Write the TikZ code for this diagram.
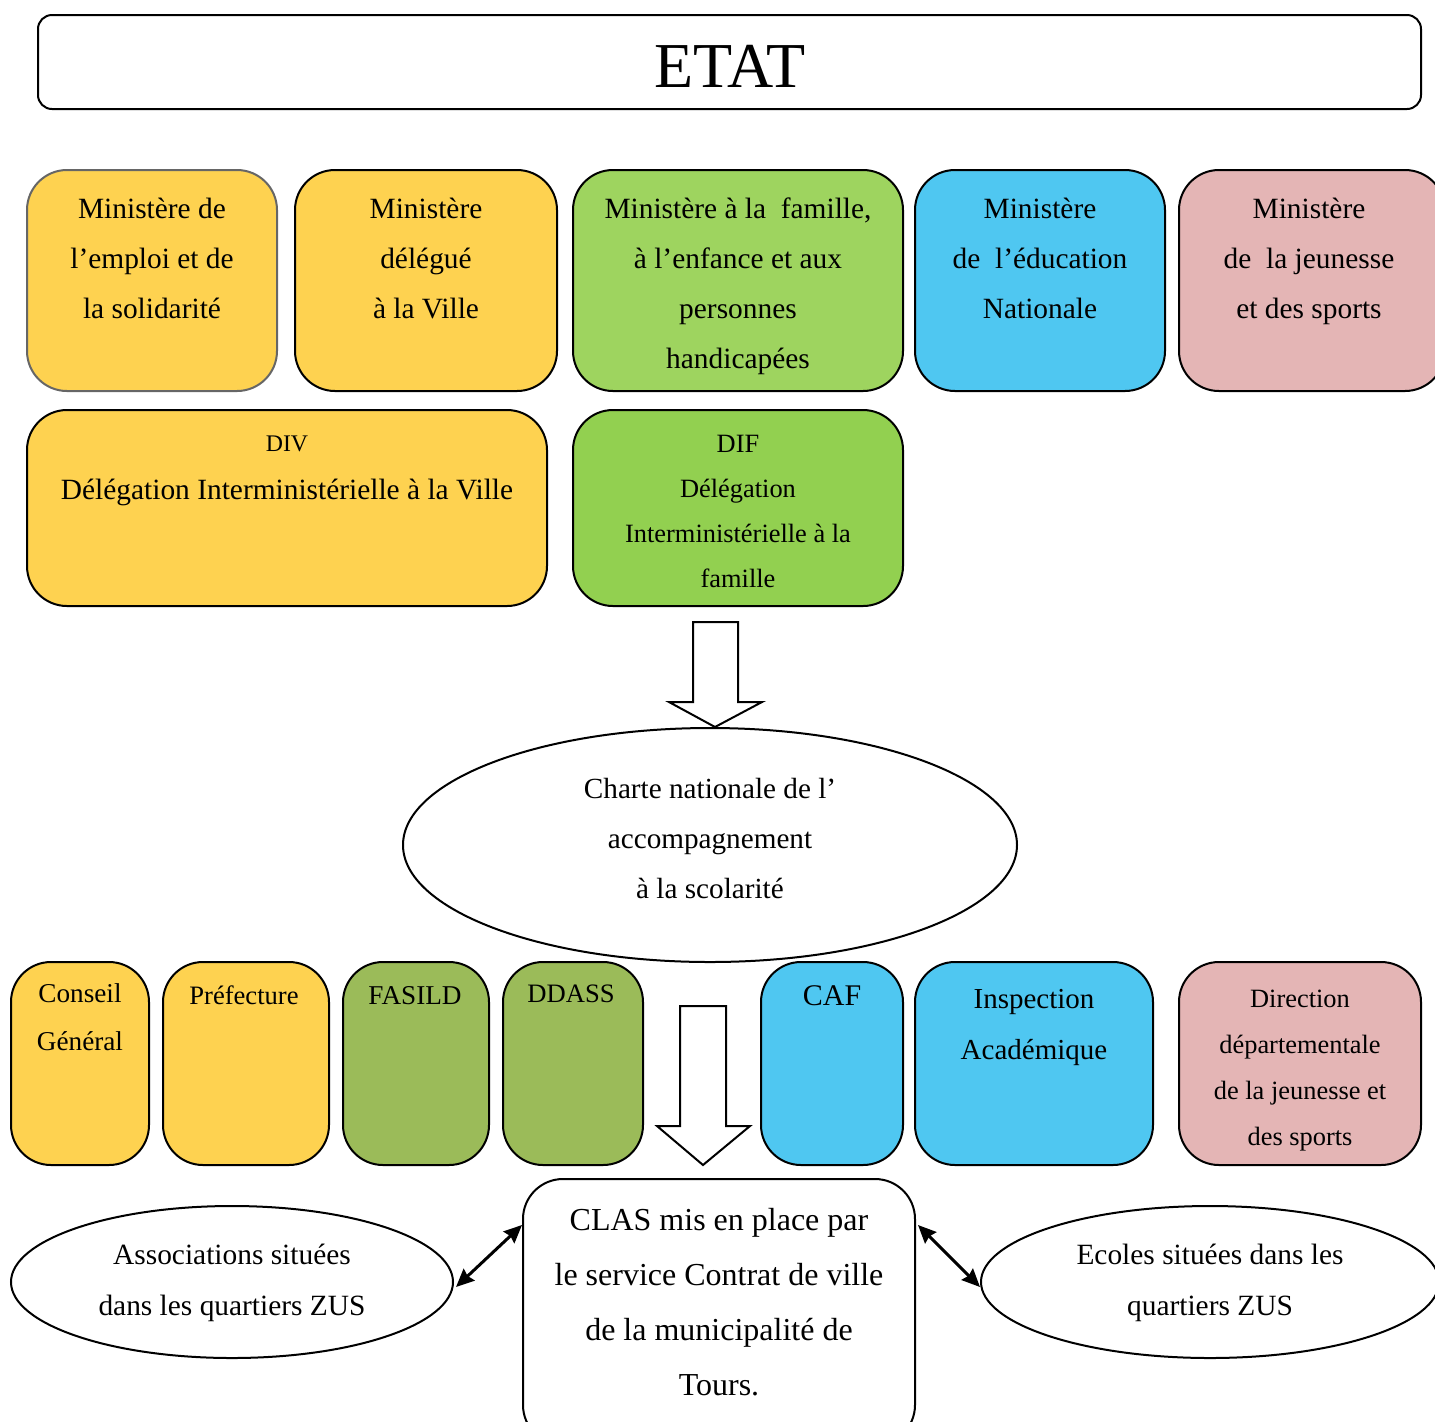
\documentclass[tikz,border=0pt]{standalone}
\usepackage{fontspec}
\setmainfont{Liberation Serif}
\usetikzlibrary{arrows.meta,shapes.geometric,calc}
\definecolor{yel}{HTML}{FED250}
\definecolor{grn}{HTML}{9ED45F}
\definecolor{grn2}{HTML}{92D050}
\definecolor{olv}{HTML}{9BBB59}
\definecolor{blu}{HTML}{4FC7F1}
\definecolor{pnk}{HTML}{E4B5B5}
\newcommand{\mybox}[6]{%
 \pgfmathsetmacro\cx{(#2+#4)/2}\pgfmathsetmacro\cy{(#3+#5)/2}%
 \pgfmathsetmacro\ww{(#4-#2)*0.5}\pgfmathsetmacro\hh{(#5-#3)*0.5}%
 \node[box,#6,minimum width=\ww pt,minimum height=\hh pt] (#1) at (\cx,\cy) {};}
\newcommand{\tx}[6]{%
 \pgfmathsetmacro\ty{#3+0.66*#4-34}%
 \node[txt,font=\fontsize{#4}{#5}\selectfont] (#1) at (#2,\ty) {\rule{0pt}{17pt}#6};}
\begin{document}
\begin{tikzpicture}[x=0.5pt,y=-0.5pt,
 box/.style={draw, line width=1pt, rounded corners=20pt, inner sep=0pt},
 txt/.style={align=center, inner sep=0pt, anchor=north},
 blockarrow/.style={draw, line width=1pt, fill=white, line join=miter},
 link/.style={{Stealth[length=9pt,width=8pt,inset=1pt]}-{Stealth[length=9pt,width=8pt,inset=1pt]}, line width=1.5pt},
 oval/.style={draw, line width=1pt, ellipse, inner sep=0pt}]
\useasboundingbox (0,0) rectangle (1435,1421);
% ETAT
\mybox{etat}{38}{15}{1421}{109}{rounded corners=7pt}
\node[font=\fontsize{32}{38}\selectfont, inner sep=0pt] (etatt) at (730,66) {ETAT};
% Row 1
\mybox{m1}{27}{170}{277}{391}{fill=yel,draw=black!60}
\mybox{m2}{295}{170}{557}{391}{fill=yel}
\mybox{m3}{573}{170}{903}{391}{fill=grn}
\mybox{m4}{915}{170}{1165}{391}{fill=blu}
\mybox{m5}{1179}{170}{1445}{391}{fill=pnk}
\tx{t1}{152}{208}{14.7}{25}{Ministère de\\l’emploi et de\\la solidarité}
\tx{t2}{426}{208}{14.7}{25}{Ministère\\délégué\\à la Ville}
\tx{t3}{738}{208}{14.7}{25}{Ministère à la\ \ famille,\\à l’enfance et aux\\personnes\\handicapées}
\tx{t4}{1040}{208}{14.7}{25}{Ministère\\de\ \ l’éducation\\Nationale}
\tx{t5}{1309}{208}{14.7}{25}{Ministère\\de\ \ la jeunesse\\et des sports}
% Row 2
\mybox{div}{27}{410}{547}{606}{fill=yel}
\mybox{dif}{573}{410}{903}{606}{fill=grn2}
\tx{t6}{287}{443}{11.9}{22}{DIV}
\tx{t7}{287}{489}{14.7}{25}{Délégation Interministérielle à la Ville}
\tx{t8}{738}{443}{13.2}{22.5}{DIF\\Délégation\\Interministérielle à la\\famille}
% Arrow 1
\draw[blockarrow] (693,622) -- (738,622) -- (738,702) -- (762,702) -- (715,727) -- (669,702) -- (693,702) -- cycle;
% Charte
\node[oval, minimum width=307pt, minimum height=117pt] (charte) at (710,845) {};
\tx{t9}{710}{788}{14.6}{25}{Charte nationale de l’\\accompagnement\\à la scolarité}
% Row 3
\mybox{cg}{11}{962}{149}{1165}{fill=yel}
\mybox{pref}{163}{962}{329}{1165}{fill=yel}
\mybox{fas}{343}{962}{489}{1165}{fill=olv}
\mybox{dd}{503}{962}{643}{1165}{fill=olv}
\mybox{caf}{761}{962}{903}{1165}{fill=blu}
\mybox{ia}{915}{962}{1153}{1165}{fill=blu}
\mybox{ddjs}{1179}{962}{1421}{1165}{fill=pnk}
\tx{t10}{80}{993}{13.6}{24}{Conseil\\Général}
\tx{t11}{244}{995}{13.3}{24}{Préfecture}
\tx{t12}{415}{995}{13.6}{24}{FASILD}
\tx{t13}{571}{993}{13.3}{24}{DDASS}
\tx{t14}{832}{995}{15}{25}{CAF}
\tx{t15}{1034}{999}{14.5}{25.5}{Inspection\\Académique}
\tx{t16}{1300}{998}{13.2}{23}{Direction\\départementale\\de la jeunesse et\\des sports}
% Arrow 2
\draw[blockarrow] (680,1006) -- (726,1006) -- (726,1126) -- (750,1126) -- (703,1165) -- (657,1126) -- (680,1126) -- cycle;
% Bottom
\mybox{clas}{523}{1179}{915}{1445}{fill=white}
\tx{t17}{719}{1220}{16}{27.5}{CLAS mis en place par\\le service Contrat de ville\\de la municipalité de\\Tours.}
\node[oval, minimum width=221pt, minimum height=76pt] (assoc) at (232,1282) {};
\node[oval, minimum width=229pt, minimum height=76pt] (ecole) at (1210,1282) {};
\tx{t18}{232}{1254}{14.7}{25.5}{Associations situées\\dans les quartiers ZUS}
\tx{t19}{1210}{1254}{14.7}{25.5}{Ecoles situées dans les\\quartiers ZUS}
\draw[link] ($(assoc.east)+(2,5)$) -- ($(clas.north west)+(0,47)$);
\draw[link] ($(clas.north east)+(2,47)$) -- ($(ecole.west)+(0,5)$);
\end{tikzpicture}
\end{document}
